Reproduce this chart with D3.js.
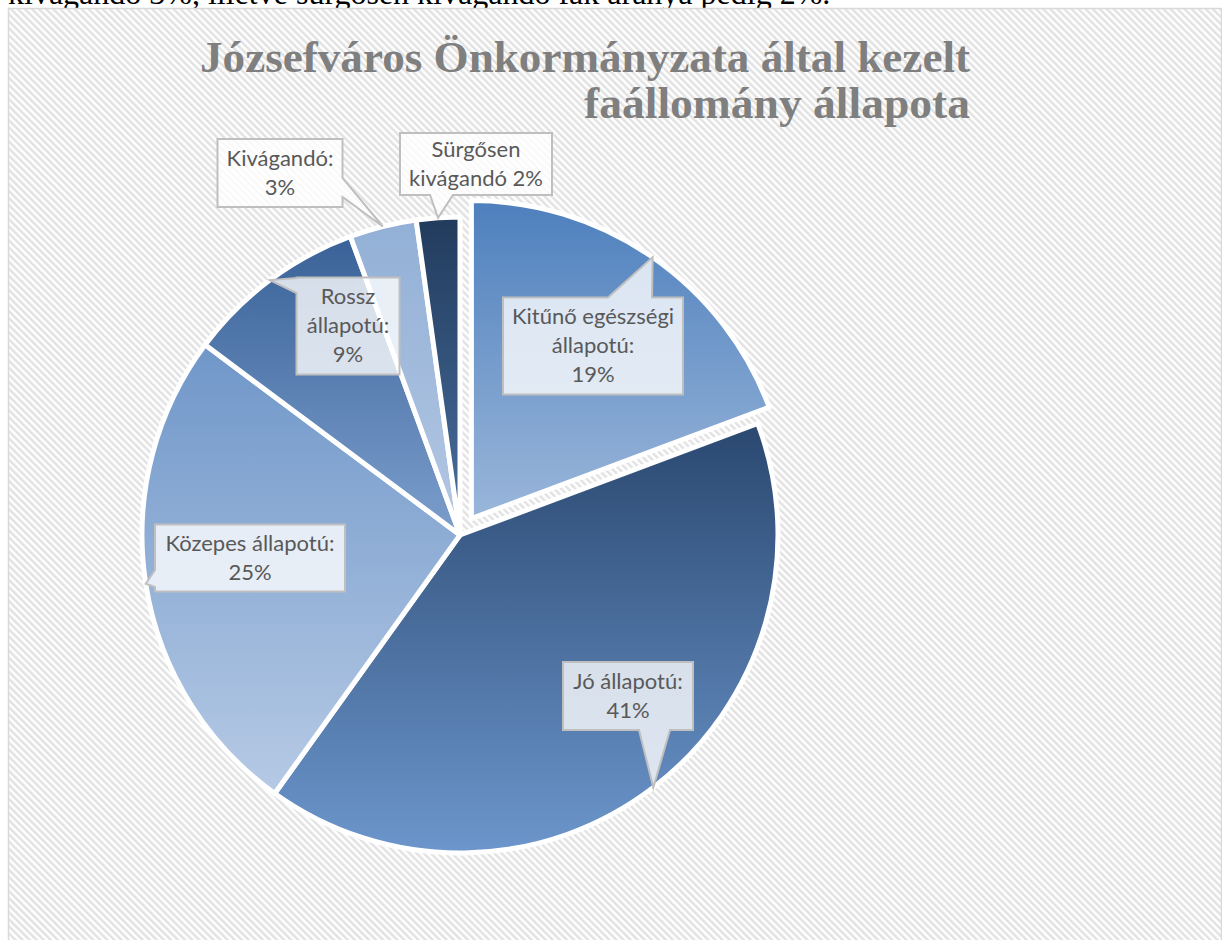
<!DOCTYPE html>
<html>
<head>
<meta charset="utf-8">
<script src="https://cdn.jsdelivr.net/npm/d3@7"></script>
<style>
  body { margin: 0; background: #fff; }
  svg { position: absolute; left: 0; top: 0; }
</style>
</head>
<body>
<div id="chart-area"></div>
<script>
// data
const categories = ["Kitűnő egészségi állapotú:", "Jó állapotú:", "Közepes állapotú:", "Rossz állapotú:", "Kivágandó:", "Sürgősen kivágandó"];
const values = [19.3, 40.6, 25.3, 9.2, 3.4, 2.2];
const labelLines = [
  ["Kitűnő egészségi", "állapotú:"],
  ["Jó állapotú:"],
  ["Közepes állapotú:"],
  ["Rossz", "állapotú:"],
  ["Kivágandó:"],
  ["Sürgősen", "kivágandó"]
];
const titleLines = ["Józsefváros Önkormányzata által kezelt", "faállomány állapota"];
const aboveText = "kivágandó 3%, illetve sürgősen kivágandó fák aránya pedig 2%.";

// gradient colours (top, bottom) per slice
const gradTop = ["#4e80bd", "#2a4870", "#7097c9", "#3a6298", "#92b0d6", "#213b5c"];
const gradBottom = ["#9ab6da", "#6c96cc", "#b6cae5", "#7b9ecc", "#b3c7e3", "#4b70a0"];

const W = 1222, H = 940;
const cx = 460, cy = 535, radius = 318, explode = 20;

const svg = d3.select("#chart-area")
  .append("svg")
  .attr("width", W)
  .attr("height", H);

const defs = svg.append("defs");

// hatched chart background
const pat = defs.append("pattern")
  .attr("id", "hatch")
  .attr("patternUnits", "userSpaceOnUse")
  .attr("width", 5)
  .attr("height", 5)
  .attr("patternTransform", "rotate(-45)");
pat.append("rect").attr("width", 5).attr("height", 5).attr("fill", "#ffffff");
pat.append("rect").attr("width", 2.5).attr("height", 5).attr("fill", "#e2e2e2");

values.forEach((v, i) => {
  const g = defs.append("linearGradient")
    .attr("id", "grad" + i)
    .attr("x1", 0).attr("y1", 0).attr("x2", 0).attr("y2", 1);
  g.append("stop").attr("offset", "0%").attr("stop-color", gradTop[i]);
  g.append("stop").attr("offset", "100%").attr("stop-color", gradBottom[i]);
});

// text above the chart (cut off by the page edge)
svg.append("text")
  .attr("x", 8)
  .attr("y", 4)
  .attr("font-family", "'Liberation Serif', 'Times New Roman', serif")
  .attr("font-size", "32px")
  .attr("fill", "#000")
  .text(aboveText);

// chart area
svg.append("rect")
  .attr("x", 8.5)
  .attr("y", 8.5)
  .attr("width", W - 9)
  .attr("height", H + 20)
  .attr("fill", "url(#hatch)")
  .attr("stroke", "#d9d9d9")
  .attr("stroke-width", 1.5);

// title
const titleX = 970;
const titleY = [72, 118];
const titleLen = [770, 386];
titleLines.forEach((t, i) => {
  svg.append("text")
    .attr("x", titleX)
    .attr("y", titleY[i])
    .attr("text-anchor", "end")
    .attr("font-family", "'Liberation Serif', 'Times New Roman', serif")
    .attr("font-weight", "bold")
    .attr("font-size", "44px")
    .attr("fill", "#7f7f7f")
    .attr("textLength", titleLen[i])
    .attr("lengthAdjust", "spacingAndGlyphs")
    .text(t);
});

// pie
const pie = d3.pie().sort(null).value(d => d).startAngle(0).endAngle(2 * Math.PI);
const arcs = pie(values);
const arc = d3.arc().innerRadius(0).outerRadius(radius);

const offsetOf = (d, i) => {
  if (i !== 0) return [0, 0];
  const m = (d.startAngle + d.endAngle) / 2;
  return [explode * Math.sin(m), -explode * Math.cos(m)];
};

const g = svg.append("g")
  .attr("transform", "translate(" + cx + "," + cy + ")");

g.selectAll("path.slice")
  .data(arcs)
  .enter()
  .append("path")
  .attr("class", "slice")
  .attr("transform", (d, i) => "translate(" + offsetOf(d, i).join(",") + ")")
  .attr("d", arc)
  .attr("fill", (d, i) => "url(#grad" + i + ")")
  .attr("stroke", "#ffffff")
  .attr("stroke-width", 5)
  .attr("stroke-linejoin", "round");

// callout layout: box centre relative to pie centre, size, tail side and base
const boxes = [
  { x: 133, y: -189, w: 180, h: 97, side: "top", a: 15, b: 59 },
  { x: 168, y: 161, w: 130, h: 68, side: "bottom", a: 11, b: 42 },
  { x: -210, y: 23, w: 190, h: 67, side: "left", a: 12, b: 29 },
  { x: -112, y: -209, w: 103, h: 97, side: "left", a: -48, b: -33 },
  { x: -180, y: -362, w: 125, h: 68, side: "right", a: 5, b: 24 },
  { x: 16, y: -371, w: 152, h: 62, side: "bottom", a: -46, b: -23 }
];

function calloutPath(bx, by, w, h, side, a, b, tip) {
  const x0 = bx - w / 2, x1 = bx + w / 2, y0 = by - h / 2, y1 = by + h / 2;
  const p = d3.path();
  p.moveTo(x0, y0);
  if (side === "top") { p.lineTo(bx + a, y0); p.lineTo(tip[0], tip[1]); p.lineTo(bx + b, y0); }
  p.lineTo(x1, y0);
  if (side === "right") { p.lineTo(x1, by + a); p.lineTo(tip[0], tip[1]); p.lineTo(x1, by + b); }
  p.lineTo(x1, y1);
  if (side === "bottom") { p.lineTo(bx + b, y1); p.lineTo(tip[0], tip[1]); p.lineTo(bx + a, y1); }
  p.lineTo(x0, y1);
  if (side === "left") { p.lineTo(x0, by + b); p.lineTo(tip[0], tip[1]); p.lineTo(x0, by + a); }
  p.closePath();
  return p.toString();
}

const labels = g.selectAll("g.label")
  .data(arcs)
  .enter()
  .append("g")
  .attr("class", "label");

labels.append("path")
  .attr("d", (d, i) => {
    const m = (d.startAngle + d.endAngle) / 2;
    const o = offsetOf(d, i);
    const tip = [o[0] + radius * Math.sin(m), o[1] - radius * Math.cos(m)];
    const bx = boxes[i];
    return calloutPath(bx.x, bx.y, bx.w, bx.h, bx.side, bx.a, bx.b, tip);
  })
  .attr("fill", "rgba(255,255,255,0.78)")
  .attr("stroke", "#bfbfbf")
  .attr("stroke-width", 2)
  .attr("stroke-linejoin", "miter");

const lineH = 29;
labels.append("text")
  .attr("text-anchor", "middle")
  .attr("font-family", "Lato, 'Liberation Sans', sans-serif")
  .attr("font-size", "22px")
  .attr("fill", "#595959")
  .each(function (d, i) {
    const lines = labelLines[i].slice();
    const pct = Math.round(d.value) + "%";
    if (i === 5) lines[1] = lines[1] + " " + pct; else lines.push(pct);
    const bx = boxes[i];
    const startY = bx.y - (lines.length - 1) * lineH / 2 + 7;
    d3.select(this).selectAll("tspan")
      .data(lines)
      .enter()
      .append("tspan")
      .attr("x", bx.x)
      .attr("y", (l, k) => startY + k * lineH)
      .text(l => l);
  });
</script>
</body>
</html>
